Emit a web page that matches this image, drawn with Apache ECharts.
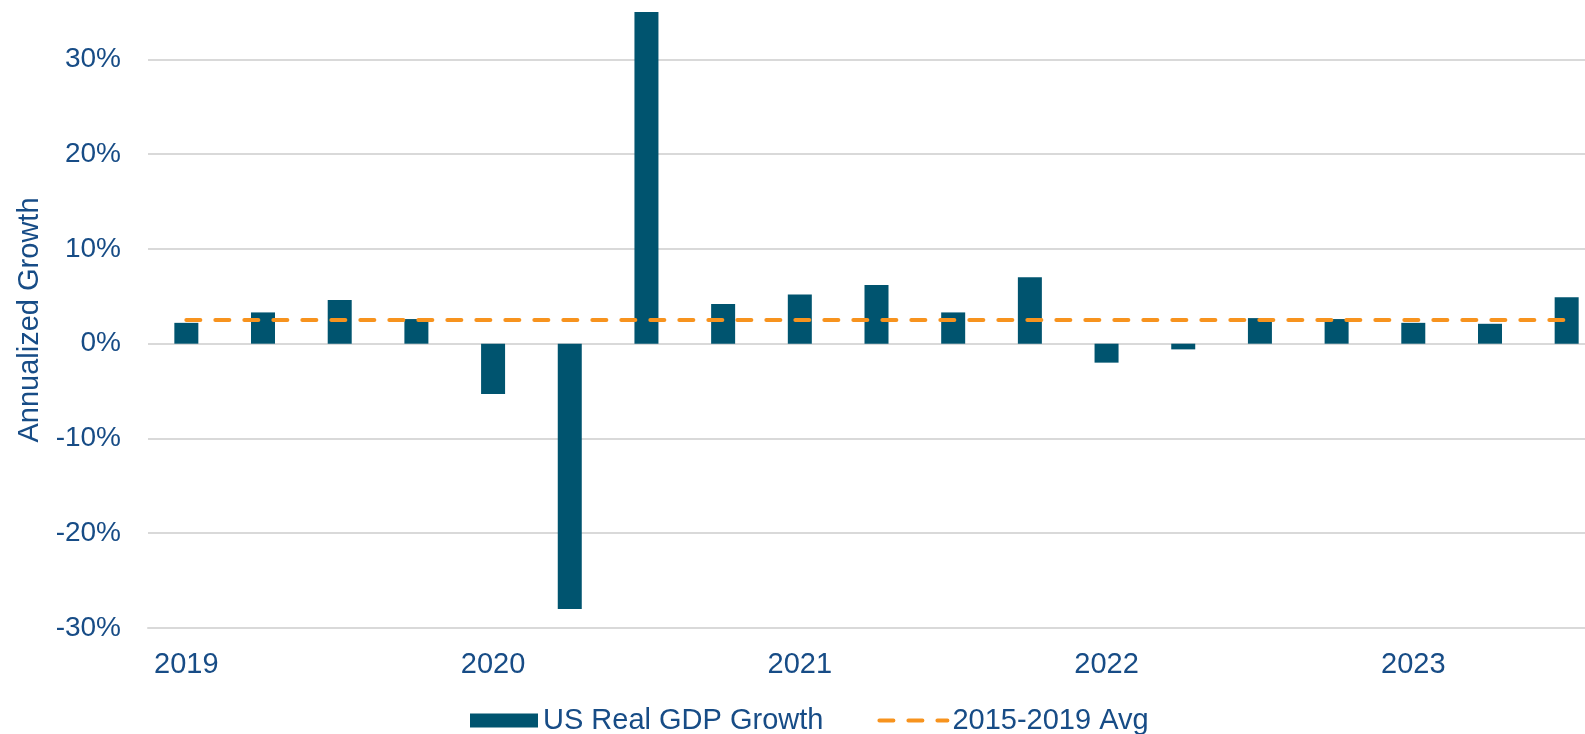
<!DOCTYPE html>
<html>
<head>
<meta charset="utf-8">
<script src="https://cdn.jsdelivr.net/npm/echarts@6/dist/echarts.min.js"></script>
<style>
  html, body { margin: 0; padding: 0; background: #fff; }
  #chart { width: 1585px; height: 734px; }
</style>
</head>
<body>
<div id="chart"></div>
<script>
// quarters shown on the x axis (only Q1 gets a year label)
const quarters = [
  '2019 Q1', '2019 Q2', '2019 Q3', '2019 Q4',
  '2020 Q1', '2020 Q2', '2020 Q3', '2020 Q4',
  '2021 Q1', '2021 Q2', '2021 Q3', '2021 Q4',
  '2022 Q1', '2022 Q2', '2022 Q3', '2022 Q4',
  '2023 Q1', '2023 Q2', '2023 Q3'
];

// annualized real GDP growth, %
const gdpGrowth = [
  2.2, 3.3, 4.6, 2.6,
  -5.3, -28.0, 35.0, 4.2,
  5.2, 6.2, 3.3, 7.0,
  -2.0, -0.6, 2.7, 2.6,
  2.2, 2.1, 4.9
];

// 2015-2019 average, flat reference line
const avg1519 = [
  2.5, 2.5, 2.5, 2.5, 2.5, 2.5, 2.5, 2.5, 2.5, 2.5,
  2.5, 2.5, 2.5, 2.5, 2.5, 2.5, 2.5, 2.5, 2.5
];

const yMin = -30, yMax = 35, yStep = 10;

const textColor = '#174c86';
const orange = '#f7931e';
const font = 'Liberation Sans, Arial, sans-serif';
const dash = { color: orange, width: 4, type: [14, 15], cap: 'round' };

const chart = echarts.init(document.getElementById('chart'), null, { renderer: 'canvas' });

chart.setOption({
  animation: false,
  backgroundColor: '#ffffff',
  textStyle: { fontFamily: font },
  // plot runs past the right edge, like the cropped original
  grid: {
    left: 148, width: 1457, top: 12, bottom: 106,
    containLabel: false, outerBoundsMode: 'none'
  },
  legend: {
    left: 470,
    top: 706,
    padding: 0,
    itemWidth: 68,
    itemHeight: 14,
    itemGap: 54,
    textStyle: { color: textColor, fontSize: 29, fontFamily: font },
    data: [
      { name: 'US Real GDP Growth', icon: 'rect' },
      { name: '2015-2019 Avg', itemStyle: { opacity: 0 }, lineStyle: dash }
    ]
  },
  xAxis: {
    type: 'category',
    data: quarters,
    axisLine: { onZero: false, lineStyle: { color: '#d9d9d9', width: 2 } },
    axisTick: { show: false },
    axisLabel: {
      interval: 3,
      margin: 22,
      color: textColor,
      fontSize: 29,
      fontFamily: font,
      formatter: v => v.slice(0, 4)
    }
  },
  yAxis: {
    type: 'value',
    min: yMin,
    max: yMax,
    interval: yStep,
    name: 'Annualized Growth',
    nameLocation: 'middle',
    nameGap: 98,
    nameTextStyle: { color: textColor, fontSize: 29, fontFamily: font },
    axisLine: { show: false },
    axisTick: { show: false },
    axisLabel: {
      margin: 27,
      color: textColor,
      fontSize: 28,
      fontFamily: font,
      showMaxLabel: false,
      formatter: '{value}%'
    },
    splitLine: { showMaxLine: false, lineStyle: { color: '#d9d9d9', width: 2 } }
  },
  series: [
    {
      name: 'US Real GDP Growth',
      type: 'bar',
      data: gdpGrowth,
      barWidth: 24,
      itemStyle: { color: '#00546f' }
    },
    {
      name: '2015-2019 Avg',
      type: 'line',
      data: avg1519,
      symbol: 'none',
      z: 3,
      itemStyle: { color: orange },
      lineStyle: dash
    }
  ]
});
</script>
</body>
</html>
